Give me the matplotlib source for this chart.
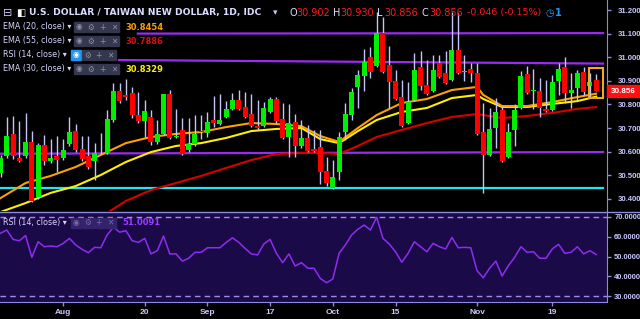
import numpy as np
import pandas as pd
import matplotlib
matplotlib.use("Agg")
import matplotlib.pyplot as plt
from matplotlib.patches import Rectangle
from matplotlib.lines import Line2D

W, H = 640, 319

# USD/TWD daily candles, 18 Jul - 28 Nov 2018
opens = [30.509, 30.581, 30.675, 30.573, 30.581, 30.641, 30.408, 30.628, 30.560, 30.581,
         30.573, 30.632, 30.687, 30.611, 30.581, 30.560, 30.592, 30.594, 30.734, 30.857,
         30.840, 30.848, 30.755, 30.730, 30.747, 30.641, 30.675, 30.844, 30.662, 30.692,
         30.607, 30.632, 30.687, 30.679, 30.734, 30.717, 30.747, 30.781, 30.819, 30.789,
         30.759, 30.708, 30.708, 30.768, 30.823, 30.738, 30.662, 30.725, 30.624, 30.658,
         30.611, 30.620, 30.518, 30.446, 30.514, 30.683, 30.755, 30.874, 30.920, 31.001,
         30.963, 31.103, 30.967, 30.899, 30.831, 30.721, 30.819, 30.959, 30.882, 30.857,
         30.975, 30.933, 30.903, 31.031, 30.937, 30.950, 30.933, 30.683, 30.586, 30.700,
         30.776, 30.577, 30.692, 30.785, 30.929, 30.857, 30.857, 30.781, 30.776, 30.899,
         30.959, 30.848, 30.870, 30.937, 30.878, 30.902]
highs = [30.586, 30.747, 30.751, 30.730, 30.764, 30.687, 30.636, 30.670, 30.653, 30.666,
         30.653, 30.747, 30.717, 30.666, 30.666, 30.636, 30.679, 30.776, 30.891, 30.891,
         30.908, 30.874, 30.853, 30.819, 30.776, 30.734, 30.844, 30.861, 30.781, 30.742,
         30.742, 30.755, 30.755, 30.768, 30.836, 30.844, 30.814, 30.848, 30.861, 30.853,
         30.844, 30.819, 30.810, 30.831, 30.831, 30.806, 30.802, 30.759, 30.734, 30.713,
         30.692, 30.692, 30.577, 30.564, 30.683, 30.806, 30.870, 30.946, 31.035, 31.043,
         31.192, 31.170, 31.048, 30.946, 30.903, 30.895, 31.018, 31.026, 30.988, 31.009,
         31.009, 31.026, 31.192, 31.187, 31.009, 30.975, 30.975, 30.806, 30.785, 30.827,
         30.793, 30.721, 30.802, 30.942, 30.963, 30.950, 30.912, 30.903, 30.925, 30.975,
         31.001, 30.933, 30.946, 30.959, 30.933, 30.930]
lows = [30.492, 30.573, 30.569, 30.556, 30.573, 30.386, 30.399, 30.543, 30.552, 30.514,
        30.564, 30.624, 30.598, 30.560, 30.526, 30.480, 30.590, 30.590, 30.725, 30.806,
        30.819, 30.742, 30.721, 30.662, 30.628, 30.632, 30.670, 30.653, 30.658, 30.586,
        30.598, 30.624, 30.653, 30.662, 30.704, 30.713, 30.742, 30.776, 30.776, 30.742,
        30.704, 30.692, 30.704, 30.764, 30.721, 30.653, 30.577, 30.577, 30.615, 30.598,
        30.598, 30.463, 30.454, 30.442, 30.480, 30.649, 30.734, 30.785, 30.857, 30.912,
        30.959, 30.933, 30.785, 30.819, 30.704, 30.717, 30.814, 30.861, 30.840, 30.853,
        30.912, 30.886, 30.899, 30.929, 30.899, 30.895, 30.670, 30.425, 30.581, 30.615,
        30.556, 30.573, 30.624, 30.781, 30.844, 30.781, 30.747, 30.768, 30.772, 30.840,
        30.806, 30.785, 30.819, 30.840, 30.827, 30.856]
closes = [30.573, 30.666, 30.581, 30.560, 30.641, 30.391, 30.628, 30.560, 30.573, 30.564,
          30.607, 30.683, 30.607, 30.569, 30.535, 30.594, 30.596, 30.738, 30.857, 30.814,
          30.831, 30.755, 30.730, 30.772, 30.641, 30.675, 30.844, 30.658, 30.666, 30.590,
          30.632, 30.675, 30.681, 30.725, 30.721, 30.734, 30.781, 30.819, 30.781, 30.747,
          30.708, 30.700, 30.785, 30.823, 30.730, 30.658, 30.721, 30.624, 30.658, 30.603,
          30.603, 30.514, 30.467, 30.492, 30.662, 30.759, 30.853, 30.925, 30.980, 30.937,
          31.103, 30.937, 30.895, 30.823, 30.708, 30.810, 30.946, 30.878, 30.844, 30.946,
          30.916, 30.891, 31.031, 30.933, 30.942, 30.933, 30.675, 30.586, 30.696, 30.768,
          30.560, 30.683, 30.776, 30.920, 30.848, 30.863, 30.785, 30.772, 30.895, 30.950,
          30.848, 30.861, 30.933, 30.853, 30.895, 30.856]

dates = pd.bdate_range("2018-07-18", periods=len(closes))
tick_dates = ["2018-08-01", "2018-08-20", "2018-09-03", "2018-09-17",
              "2018-10-01", "2018-10-15", "2018-11-01", "2018-11-19"]
tick_labels = ["Aug", "20", "Sep", "17", "Oct", "15", "Nov", "19"]

# moving averages, sampled along the chart
ema_idx = [0, 4, 8, 12, 16, 20, 24, 28, 32, 36, 40, 44, 48, 51, 54, 57, 60, 64, 68, 72,
           76, 77, 80, 84, 88, 92, 95]
ema20 = [30.403, 30.467, 30.497, 30.535, 30.586, 30.636, 30.662, 30.675, 30.683, 30.704,
         30.721, 30.717, 30.708, 30.666, 30.641, 30.700, 30.755, 30.806, 30.823, 30.861,
         30.874, 30.840, 30.793, 30.793, 30.810, 30.831, 30.8454]
ema30 = [30.344, 30.382, 30.425, 30.454, 30.501, 30.556, 30.598, 30.624, 30.636, 30.658,
         30.687, 30.696, 30.700, 30.653, 30.636, 30.687, 30.734, 30.768, 30.785, 30.827,
         30.840, 30.823, 30.789, 30.789, 30.802, 30.814, 30.8329]
ema55_idx = [16, 18, 20, 24, 28, 32, 36, 40, 44, 48, 51, 54, 57, 60, 64, 68, 72, 76, 77,
             80, 84, 88, 92, 95]
ema55 = [30.323, 30.357, 30.391, 30.437, 30.467, 30.497, 30.531, 30.564, 30.590, 30.594,
         30.594, 30.590, 30.624, 30.662, 30.692, 30.721, 30.747, 30.759, 30.755, 30.742,
         30.751, 30.764, 30.781, 30.7886]

rsi = [61.7, 63.3, 58.6, 57.9, 60.5, 49.6, 57.4, 54.9, 55.3, 54.9,
       56.6, 59.1, 55.8, 53.6, 51.9, 54.6, 54.4, 60.8, 64.7, 62.2,
       63.0, 57.9, 57.1, 59.1, 51.3, 52.9, 60.3, 51.3, 51.3, 47.7,
       49.1, 52.1, 52.1, 54.4, 54.4, 54.4, 57.1, 59.4, 57.1, 54.1,
       51.3, 50.8, 56.3, 58.6, 51.6, 46.9, 51.3, 45.2, 46.9, 44.1,
       44.1, 39.0, 36.8, 38.7, 51.6, 55.8, 60.8, 63.7, 65.8, 63.3,
       69.7, 59.1, 56.3, 52.4, 47.1, 51.6, 57.4, 54.9, 52.4, 56.6,
       54.9, 53.8, 59.6, 54.4, 54.6, 54.4, 42.9, 39.3, 44.1, 47.7,
       40.2, 45.4, 49.6, 54.9, 52.1, 52.4, 49.1, 49.1, 53.8, 56.1,
       51.6, 52.1, 54.9, 51.3, 52.9, 51.0091]

# drawn support / resistance lines (start bar, end bar, start price, end price)
level_x0 = [21.9, 18.9, -1, -1]
level_x1 = [96.1, 96.1, 96.1, 96.1]
level_p0 = [31.100, 30.988, 30.591, 30.444]
level_p1 = [31.102, 30.973, 30.598, 30.444]
level_colors = ["#9a2cf2", "#9a2cf2", "#9a2cf2", "#1ee6f5"]

price_ticks = [30.4, 30.5, 30.6, 30.7, 30.8, 30.9, 31.0, 31.1, 31.2]
rsi_ticks = [30, 40, 50, 60, 70]

AXIS = "#8a8ae0"
TXT = "#c8c8ff"
UP, DOWN = "#00ee00", "#ff0000"
WICK = "#c4c4f6"
NARROW = "Liberation Sans"


def fx(px):
    return px / W


def fy(py):
    return 1 - py / H


fig = plt.figure(figsize=(6.4, 3.19), dpi=100, facecolor="black")
ax = fig.add_axes([0, fy(211), 606.5 / W, 211 / H], facecolor="black")
ax2 = fig.add_axes([0, fy(302), 606.5 / W, 90 / H], facecolor="#1b0a48")

x = np.arange(len(closes))
o, h, l, c = (np.array(v) for v in (opens, highs, lows, closes))
cols = np.where(c >= o, UP, DOWN)

for x0, x1, p0, p1, col in zip(level_x0, level_x1, level_p0, level_p1, level_colors):
    ax.plot([x0, x1], [p0, p1], color=col, lw=1.6, zorder=1)

ax.plot(ema55_idx, ema55, color="#d40000", lw=1.5, zorder=2)
ax.plot(ema_idx, ema30, color="#ffee00", lw=1.5, zorder=2)
ax.plot(ema_idx, ema20, color="#ffa000", lw=1.5, zorder=2)

ax.vlines(x, l, h, color=WICK, lw=1, zorder=3)
ax.bar(x, np.maximum(np.abs(c - o), 0.002), bottom=np.minimum(o, c), width=0.8,
       color=cols, zorder=4)

# box around the last candle
ax.add_patch(Rectangle((93.86, 30.827), 2.24, 0.127, fill=False, ec="#f5a623", lw=1.5, zorder=5))

ax.set_xlim(-0.08, 96.65)
ax.set_ylim(30.3483, 31.2424)
ax.yaxis.tick_right()
ax.set_yticks(price_ticks)
ax.set_yticklabels([f"{p:.3f}" for p in price_ticks])
ax.tick_params(axis="y", colors=AXIS, labelcolor=TXT, length=3, width=1, pad=5, labelsize=5.6)
ax.tick_params(axis="x", bottom=False, labelbottom=False)
for s in ["left", "top", "bottom"]:
    ax.spines[s].set_visible(False)
ax.spines["right"].set_color(AXIS)

# RSI panel
ax2.plot(x, rsi, color="#8e2cf0", lw=1.1)
for lvl in (70, 30):
    ax2.axhline(lvl, color="#9b8ee8", lw=1, dashes=(4, 3))
ax2.set_xlim(-0.08, 96.65)
ax2.set_ylim(27.14, 72.36)
ax2.yaxis.tick_right()
ax2.set_yticks(rsi_ticks)
ax2.set_yticklabels([f"{r:.4f}" for r in rsi_ticks])
tick_pos = [dates.get_loc(pd.Timestamp(d)) for d in tick_dates]
ax2.set_xticks(tick_pos)
ax2.set_xticklabels(tick_labels)
ax2.tick_params(axis="y", colors=AXIS, labelcolor=TXT, length=3, width=1, pad=2.5, labelsize=5.4)
ax2.tick_params(axis="x", colors=AXIS, labelcolor=TXT, length=3, width=1, pad=2, labelsize=6)
for s in ["left", "top"]:
    ax2.spines[s].set_visible(False)
for s in ["right", "bottom"]:
    ax2.spines[s].set_color(AXIS)
for lbl in ax.get_yticklabels() + ax2.get_yticklabels() + ax2.get_xticklabels():
    lbl.set_fontweight("bold")
    lbl.set_family(NARROW)

# separator between panels, runs across the whole width
fig.add_artist(Line2D([0, 1], [fy(211.5), fy(211.5)], color=AXIS, lw=1))

# last price tag
fig.add_artist(Rectangle((fx(607), fy(97)), 33 / W, 12 / H, color="#ff1010",
                         transform=fig.transFigure))
fig.text(fx(623.5), fy(91), "30.856", color="white", fontsize=5.8, weight="bold",
         family=NARROW, ha="center", va="center")

# header
hy = fy(13)
fig.text(fx(3), hy, "⊟", color=TXT, fontsize=8, va="center")
fig.text(fx(16), hy, "◧", color="white", fontsize=7, va="center")
fig.text(fx(29), hy, "U.S. DOLLAR / TAIWAN NEW DOLLAR, 1D, IDC", color="#dcdcff",
         fontsize=6.6, weight="bold", va="center")
fig.text(fx(273), hy, "▾", color=TXT, fontsize=6.5, va="center")
ohlc = [("O", "30.902", 289), ("H", "30.930", 333), ("L", "30.856", 377), ("C", "30.856", 422)]
for letter, val, px in ohlc:
    fig.text(fx(px), hy, letter, color="#dcdcff", fontsize=7, va="center")
    fig.text(fx(px + 7.5), hy, val, color="#ff1a1a", fontsize=7, va="center")
fig.text(fx(467), hy, "-0.046 (-0.15%)", color="#ff1a1a", fontsize=6.8, va="center")
fig.text(fx(545), hy, "◷", color="#2196f3", fontsize=7, va="center")
fig.text(fx(555), hy, "1", color="#2196f3", fontsize=7, weight="bold", va="center")

glyphs = ["◉", "⚙", "+", "✕"]


def legend_row(py, label, value, vcolor, box_x, bg, fg, first_bg=None):
    fig.text(fx(3), fy(py), label + " ▾", color="#d4d4ff", fontsize=5.8, va="center")
    for k, bx in enumerate(box_x):
        fc = first_bg if (k == 0 and first_bg) else bg
        fig.add_artist(Rectangle((fx(bx), fy(py + 5)), 10.5 / W, 10 / H, color=fc,
                                 transform=fig.transFigure))
        gc = "white" if (k == 0 and first_bg) else fg
        fig.text(fx(bx + 5.25), fy(py), glyphs[k], color=gc, fontsize=5.5,
                 ha="center", va="center")
    if value:
        fig.text(fx(box_x[-1] + 17), fy(py), value, color=vcolor, fontsize=6,
                 weight="bold", va="center")


main_boxes = [74, 85.5, 97, 108.5]
legend_row(27, "EMA (20, close)", "30.8454", "#ff9d00", main_boxes, "#34374e", "#8e90a8")
legend_row(41, "EMA (55, close)", "30.7886", "#d41010", main_boxes, "#34374e", "#8e90a8")
legend_row(55, "RSI (14, close)", "", None, [70.5, 82, 93.5, 105], "#34374e", "#8e90a8",
           first_bg="#2196f3")
legend_row(69, "EMA (30, close)", "30.8329", "#ffee00", main_boxes, "#34374e", "#8e90a8")
legend_row(222.5, "RSI (14, close)", "51.0091", "#9a3cff", [70.5, 82, 93.5, 105],
           "#33236a", "#7a6aaa")

fig.savefig("out.png", dpi=100, facecolor="black")
